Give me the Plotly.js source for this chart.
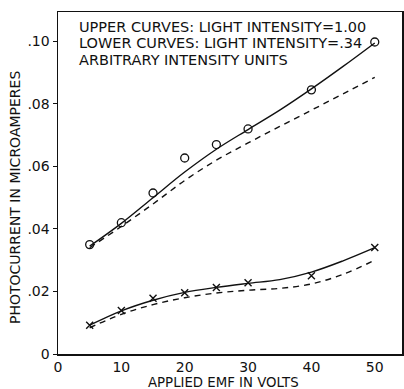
<!DOCTYPE html>
<html><head><meta charset="utf-8">
<script src="https://cdn.plot.ly/plotly-3.0.1.min.js"></script>
<style>html,body{margin:0;padding:0;background:#fff;}#chart{width:404px;height:389px;}</style>
</head><body><div id="chart"></div>
<script>
// measured points
const ptsX = [5, 10, 15, 20, 25, 30, 40, 50];
const upperPts = [0.035, 0.042, 0.0515, 0.0627, 0.067, 0.072, 0.0845, 0.0998];
const lowerPts = [0.0092, 0.0139, 0.0178, 0.0196, 0.0213, 0.0228, 0.025, 0.0341];
// drawn curves
const curveX = [5, 10, 15, 20, 25, 30, 35, 40, 45, 50];
const upperSolid = [0.0345, 0.0418, 0.0500, 0.0582, 0.0655, 0.0718, 0.0780, 0.0848, 0.0920, 0.0995];
const upperDashed = [0.0340, 0.0408, 0.0480, 0.0555, 0.0620, 0.0675, 0.0728, 0.0780, 0.0832, 0.0885];
const lowerSolid = [0.0092, 0.0138, 0.0172, 0.0197, 0.0213, 0.0226, 0.0238, 0.0262, 0.0298, 0.0340];
const lowerDashed = [0.0084, 0.0127, 0.0158, 0.0180, 0.0195, 0.0204, 0.0210, 0.0224, 0.0255, 0.0300];
const xTicks = [0, 10, 20, 30, 40, 50];
const yTicks = [0, 0.02, 0.04, 0.06, 0.08, 0.10];
const yTickText = ['0', '.02', '.04', '.06', '.08', '.10'];
const noteLines = ['UPPER CURVES: LIGHT INTENSITY=1.00', 'LOWER CURVES: LIGHT INTENSITY=.34', 'ARBITRARY INTENSITY UNITS'];
const xTitle = 'APPLIED EMF IN VOLTS';
const yTitle = 'PHOTOCURRENT IN MICROAMPERES';

const ink = '#111';
const fnt = 'DejaVu Sans, Arial, sans-serif';
const curve = (y, dash) => ({x: curveX, y: y, mode: 'lines', line: {color: ink, width: 1.4, dash: dash, shape: 'spline', smoothing: 1}, hoverinfo: 'skip', showlegend: false});
const data = [
  curve(upperSolid, 'solid'),
  curve(upperDashed, '6px,5px'),
  curve(lowerSolid, 'solid'),
  curve(lowerDashed, '6px,5px'),
  {x: ptsX, y: upperPts, mode: 'markers', marker: {symbol: 'circle-open', size: 8, color: ink, line: {width: 1.3, color: ink}}, showlegend: false},
  {x: ptsX, y: lowerPts, mode: 'markers', marker: {symbol: 'x-thin-open', size: 7, color: ink, line: {width: 1.4, color: ink}}, showlegend: false}
];
const notes = noteLines.map((t, i) => ({text: t, xref: 'paper', yref: 'paper', x: 0.055, y: 0.957 - i * 0.048, xanchor: 'left', yanchor: 'middle', showarrow: false, font: {size: 14.5, family: fnt, color: ink}}));
notes.push({text: xTitle, xref: 'paper', yref: 'paper', x: (223 - 58) / 344, y: -(382 - 354) / 342, xanchor: 'center', yanchor: 'middle', showarrow: false, font: {size: 13.3, family: fnt, color: ink}});
notes.push({text: yTitle, xref: 'paper', yref: 'paper', x: -(58 - 15) / 344, y: (354 - 198) / 342, xanchor: 'center', yanchor: 'middle', textangle: -90, showarrow: false, font: {size: 14, family: fnt, color: ink}});
const layout = {
  width: 404, height: 389,
  margin: {l: 58, r: 2, t: 12, b: 35},
  paper_bgcolor: '#fff', plot_bgcolor: '#fff',
  font: {family: fnt, color: ink, size: 13},
  xaxis: {range: [0, 54.3], tickvals: xTicks, ticktext: xTicks.map(String), showgrid: false, zeroline: false,
    showline: true, linecolor: ink, linewidth: 1.5, mirror: true, ticks: '', ticklen: 0,
    tickfont: {size: 14, family: fnt}},
  yaxis: {range: [0, 0.1094], tickvals: yTicks, ticktext: yTickText, showgrid: false, zeroline: false,
    showline: true, linecolor: ink, linewidth: 1.5, mirror: 'ticks', ticks: 'outside', ticklen: 4, tickcolor: ink,
    tickfont: {size: 14, family: fnt}},
  annotations: notes
};
Plotly.newPlot('chart', data, layout, {staticPlot: true, displayModeBar: false});
</script></body></html>
